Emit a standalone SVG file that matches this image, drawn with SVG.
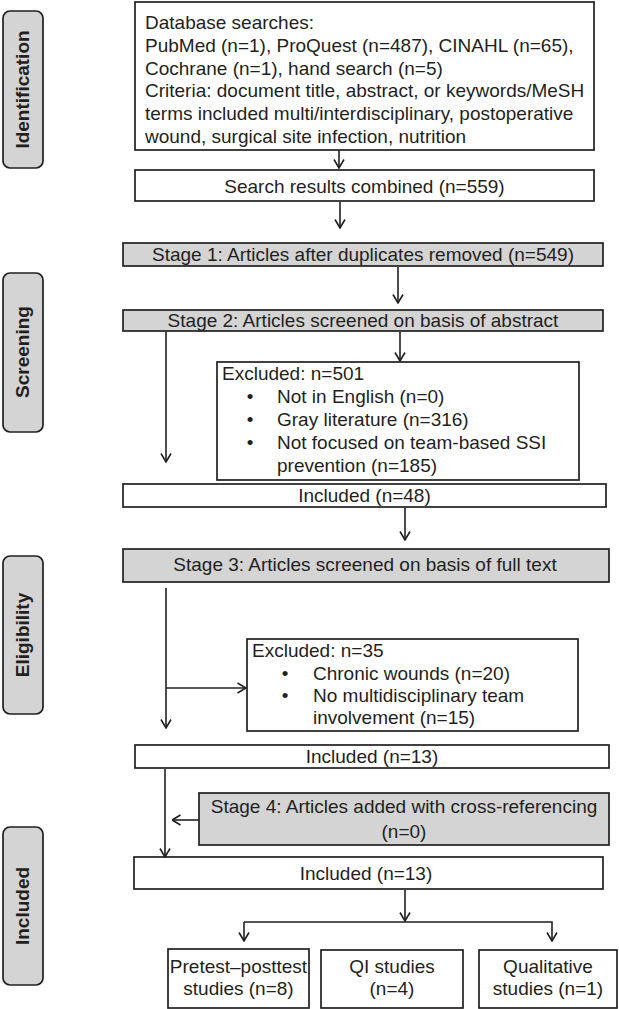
<svg xmlns="http://www.w3.org/2000/svg" width="619" height="1009" viewBox="0 0 619 1009">
<style>
text{font-family:"Liberation Sans",Arial,sans-serif;font-size:19px;fill:#231f20}
.box{fill:#fff;stroke:#231f20;stroke-width:1.7}
.gbox{fill:#d4d4d4;stroke:#231f20;stroke-width:1.7}
.side{fill:#d4d4d4;stroke:#231f20;stroke-width:1.7}
.lbl{font-weight:bold}
.c{text-anchor:middle}
.ln{fill:none;stroke:#231f20;stroke-width:1.6}
</style>
<defs>
<marker id="ah" markerUnits="userSpaceOnUse" viewBox="0 0 10 12" refX="9.5" refY="6" markerWidth="10" markerHeight="12" orient="auto">
<path d="M1,1 L9.5,6 L1,11" fill="none" stroke="#231f20" stroke-width="1.6"/>
</marker>
</defs>
<rect width="619" height="1009" fill="#fff"/>

<g id="side-identification"><rect class="side" x="3" y="11" width="40" height="157" rx="7"/><text class="lbl c" transform="translate(29,89.5) rotate(-90)">Identification</text></g>
<g id="side-screening"><rect class="side" x="3" y="273" width="40" height="159" rx="7"/><text class="lbl c" transform="translate(29,352) rotate(-90)">Screening</text></g>
<g id="side-eligibility"><rect class="side" x="3" y="556" width="40" height="158" rx="7"/><text class="lbl c" transform="translate(29,635) rotate(-90)">Eligibility</text></g>
<g id="side-included"><rect class="side" x="3" y="827" width="40" height="158" rx="7"/><text class="lbl c" transform="translate(29,906) rotate(-90)">Included</text></g>

<g id="database">
<rect class="box" x="135" y="2" width="459" height="148"/>
<text x="145" y="29">Database searches:</text>
<text x="145" y="52">PubMed (n=1), ProQuest (n=487), CINAHL (n=65),</text>
<text x="145" y="74.5">Cochrane (n=1), hand search (n=5)</text>
<text x="145" y="97">Criteria: document title, abstract, or keywords/MeSH</text>
<text x="145" y="120">terms included multi/interdisciplinary, postoperative</text>
<text x="145" y="143">wound, surgical site infection, nutrition</text>
</g>
<g id="combined"><rect class="box" x="135" y="170" width="459" height="31"/><text class="c" x="364.5" y="193">Search results combined (n=559)</text></g>
<g id="stage1"><rect class="gbox" x="123" y="243" width="480" height="23"/><text class="c" x="363" y="261">Stage 1: Articles after duplicates removed (n=549)</text></g>
<g id="stage2"><rect class="gbox" x="123" y="310" width="480" height="21"/><text class="c" x="363" y="327">Stage 2: Articles screened on basis of abstract</text></g>
<g id="excluded1">
<rect class="box" x="217" y="362" width="362" height="118"/>
<text x="222" y="380">Excluded: n=501</text>
<text class="c" x="250" y="403">•</text><text x="277" y="403">Not in English (n=0)</text>
<text class="c" x="250" y="426">•</text><text x="277" y="426">Gray literature (n=316)</text>
<text class="c" x="250" y="449">•</text><text x="277" y="449">Not focused on team-based SSI</text>
<text x="277" y="472">prevention (n=185)</text>
</g>
<g id="included48"><rect class="box" x="123" y="484" width="483" height="23"/><text class="c" x="364.5" y="502">Included (n=48)</text></g>
<g id="stage3"><rect class="gbox" x="123" y="549" width="486" height="33"/><text class="c" x="365" y="571">Stage 3: Articles screened on basis of full text</text></g>
<g id="excluded2">
<rect class="box" x="247" y="639" width="331" height="92"/>
<text x="252" y="657">Excluded: n=35</text>
<text class="c" x="285" y="680">•</text><text x="313" y="680">Chronic wounds (n=20)</text>
<text class="c" x="285" y="702">•</text><text x="313" y="702">No multidisciplinary team</text>
<text x="313" y="724">involvement (n=15)</text>
</g>
<g id="included13a"><rect class="box" x="135" y="745" width="474" height="23"/><text class="c" x="372" y="763">Included (n=13)</text></g>
<g id="stage4"><rect class="gbox" x="199" y="793" width="410" height="52"/><text class="c" x="404" y="813">Stage 4: Articles added with cross-referencing</text><text class="c" x="404" y="838">(n=0)</text></g>
<g id="included13b"><rect class="box" x="134" y="857" width="469" height="32"/><text class="c" x="366" y="880">Included (n=13)</text></g>
<g id="pretest"><rect class="box" x="168" y="949" width="141" height="59"/><text class="c" x="238.5" y="973">Pretest–posttest</text><text class="c" x="238.5" y="995">studies (n=8)</text></g>
<g id="qi"><rect class="box" x="321" y="950" width="142" height="58"/><text class="c" x="392" y="973">QI studies</text><text class="c" x="392" y="995">(n=4)</text></g>
<g id="qualitative"><rect class="box" x="479" y="950" width="138" height="58"/><text class="c" x="548" y="973">Qualitative</text><text class="c" x="548" y="995">studies (n=1)</text></g>

<g id="connectors">
<path class="ln" d="M339,150 V168" marker-end="url(#ah)"/>
<path class="ln" d="M340,202 V228" marker-end="url(#ah)"/>
<path class="ln" d="M398,267 V303" marker-end="url(#ah)"/>
<path class="ln" d="M400,332 V361" marker-end="url(#ah)"/>
<path class="ln" d="M166,332 V462" marker-end="url(#ah)"/>
<path class="ln" d="M405,508 V540" marker-end="url(#ah)"/>
<path class="ln" d="M166,588 V728" marker-end="url(#ah)"/>
<path class="ln" d="M166,688 H246" marker-end="url(#ah)"/>
<path class="ln" d="M165,769 V857" marker-end="url(#ah)"/>
<path class="ln" d="M199,820 H172" marker-end="url(#ah)"/>
<path class="ln" d="M405,890 V921" marker-end="url(#ah)"/>
<path class="ln" d="M244,922 H552 V941" marker-end="url(#ah)"/>
<path class="ln" d="M244,922 V941" marker-end="url(#ah)"/>
</g>
</svg>
